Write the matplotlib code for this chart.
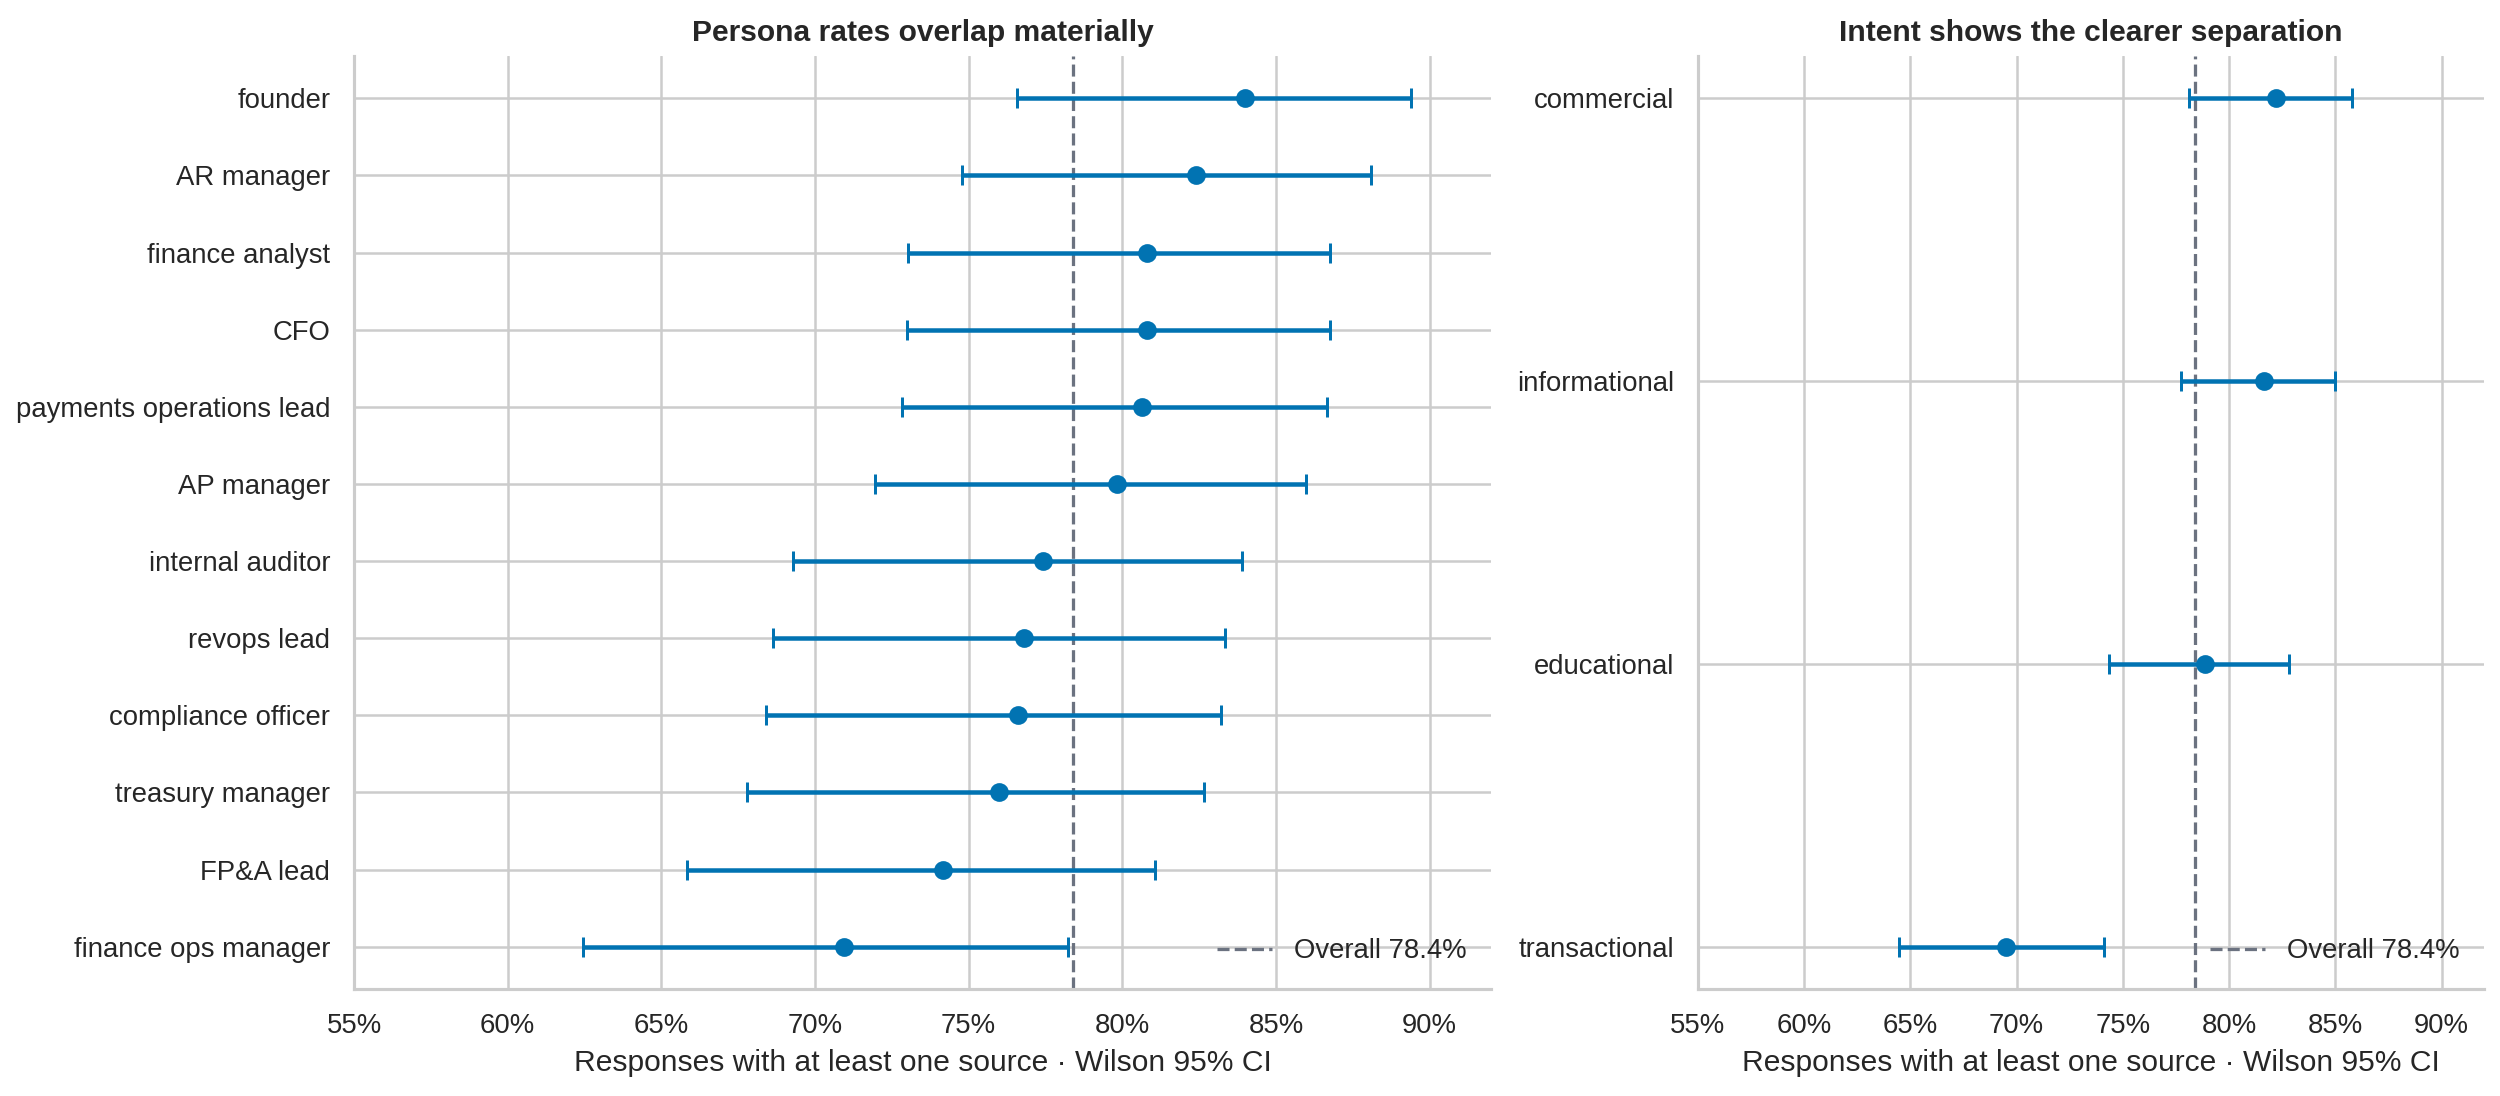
import matplotlib
matplotlib.use("Agg")
import matplotlib.pyplot as plt
import seaborn as sns
from matplotlib.ticker import PercentFormatter

# ---- data (percent) ----
personas = ["founder", "AR manager", "finance analyst", "CFO",
            "payments operations lead", "AP manager", "internal auditor",
            "revops lead", "compliance officer", "treasury manager",
            "FP&A lead", "finance ops manager"]
persona_rate = [84.0, 82.41, 80.82, 80.82, 80.65, 79.84, 77.42, 76.81, 76.60, 75.99, 74.18, 70.95]
persona_lo = [76.58, 74.78, 73.02, 73.01, 72.83, 71.95, 69.30, 68.64, 68.41, 67.78, 65.85, 62.45]
persona_hi = [89.39, 88.10, 86.75, 86.75, 86.65, 85.98, 83.90, 83.33, 83.21, 82.67, 81.08, 78.25]

intents = ["commercial", "informational", "educational", "transactional"]
intent_rate = [82.2, 81.66, 78.86, 69.52]
intent_lo = [78.10, 77.74, 74.37, 64.46]
intent_hi = [85.81, 85.0, 82.8, 74.13]

overall = 78.4
xticks = [55, 60, 65, 70, 75, 80, 85, 90]

sns.set_theme(style="whitegrid")
plt.rcParams['font.family'] = ['Liberation Sans', 'DejaVu Sans']

BLUE = "#0173b2"
GREY = "#6b7280"

fig = plt.figure(figsize=(2500/180, 1096/180), dpi=180)
gs = fig.add_gridspec(1, 2, width_ratios=[713, 493], left=0.1416, right=0.9936,
                      top=0.949, bottom=0.0975, wspace=0.215)
axes = [fig.add_subplot(gs[0, 0]), fig.add_subplot(gs[0, 1])]

panels = [
    (axes[0], personas, persona_rate, persona_lo, persona_hi, "Persona rates overlap materially"),
    (axes[1], intents, intent_rate, intent_lo, intent_hi, "Intent shows the clearer separation"),
]

for ax, cats, rate, lo, hi, title in panels:
    ys = list(range(len(cats)))
    xerr = [[r - l for r, l in zip(rate, lo)], [h - r for r, h in zip(rate, hi)]]
    ax.errorbar(rate, ys, xerr=xerr, fmt="o", color=BLUE, ecolor=BLUE,
                elinewidth=1.8, capsize=4, capthick=1.2, markersize=6.5, zorder=3)
    ax.axvline(overall, color=GREY, linestyle="--", linewidth=1.3,
               label=f"Overall {overall:.1f}%", zorder=2)
    ax.set_yticks(ys)
    ax.set_yticklabels(cats)
    ax.invert_yaxis()
    ax.set_xlim(55, 92)
    ax.set_xticks(xticks)
    ax.xaxis.set_major_formatter(PercentFormatter(100, decimals=0))
    ax.tick_params(axis="both", labelsize=11)
    ax.set_xlabel("Responses with at least one source · Wilson 95% CI", fontsize=12)
    ax.set_title(title, fontsize=12, fontweight="bold")
    ax.legend(loc="lower right", frameon=False, fontsize=11)
    sns.despine(ax=ax)

fig.savefig("out.png", dpi=180)
